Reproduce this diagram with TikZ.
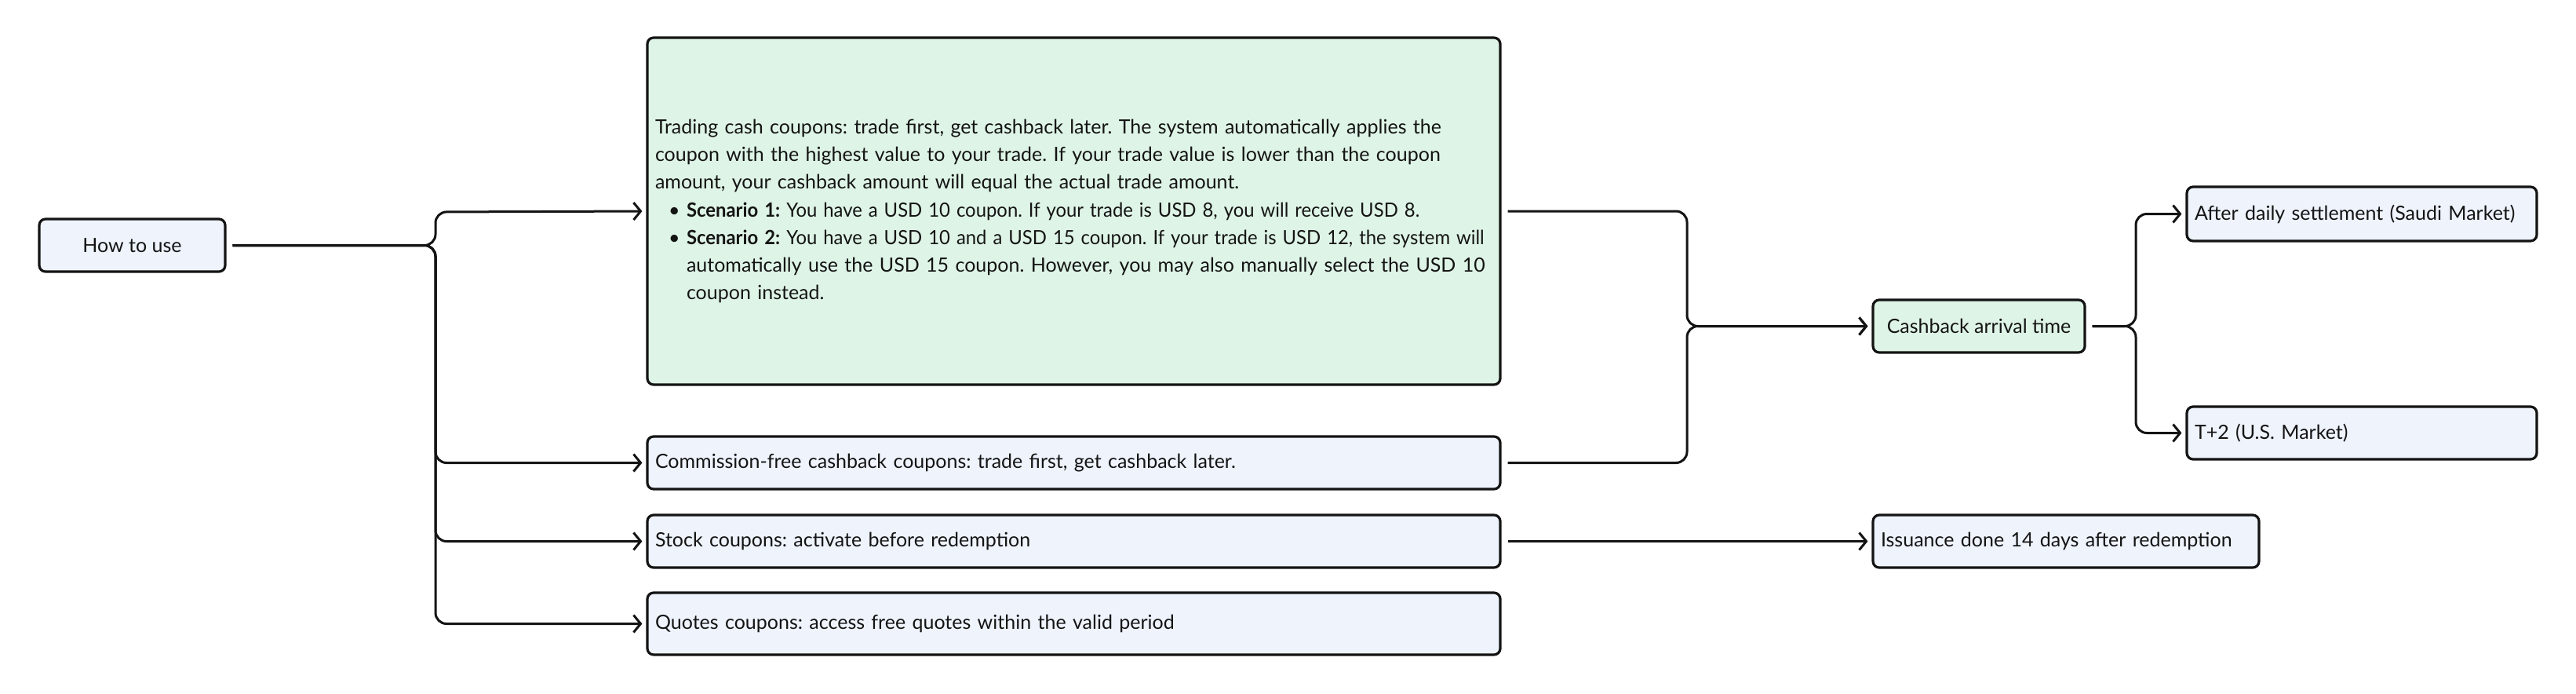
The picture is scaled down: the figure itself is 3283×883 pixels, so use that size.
\documentclass[tikz,border=0pt]{standalone}
\usepackage{graphicx}
\usepackage{fontspec}
\setmainfont{Lato}
\frenchspacing
\usetikzlibrary{arrows.meta}
\definecolor{bluefill}{RGB}{238,243,252}
\definecolor{greenfill}{RGB}{222,244,230}
\definecolor{ink}{RGB}{20,20,20}
\begin{document}
\begin{tikzpicture}[x=1pt,y=-1pt,
  box/.style={draw=ink, line width=3.2pt, rounded corners=8pt, fill=bluefill,
    font=\fontsize{25}{35.3}\selectfont, text=ink, inner sep=0pt, minimum height=67pt},
  lbox/.style={box, align=left, inner xsep=10pt},
  conn/.style={draw=ink, line width=3pt, rounded corners=14pt, shorten <=8pt, shorten >=5pt,
    -{Straight Barb[length=9pt,width=22pt,line width=3pt]}}
]
\useasboundingbox (0,0) rectangle (3283,883);
\node[box, minimum width=237pt] (how) at (168.5,312.5) {How to use};
\node[lbox, fill=greenfill, text width=1067pt, minimum height=442pt] (big) at (1368.5,269) {\mbox{Trading cash coupons: trade first, get cashback later. The system automatically applies the}\\
\mbox{coupon with the highest value to your trade. If your trade value is lower than the coupon}\\
\mbox{amount, your cashback amount will equal the actual trade amount.}\\
\mbox{\hspace*{17pt}\makebox[23pt][l]{\textbullet}\scalebox{0.955}[1]{\textbf{Scenario 1:} You have a USD 10 coupon. If your trade is USD 8, you will receive USD 8.}}\\
\mbox{\hspace*{17pt}\makebox[23pt][l]{\textbullet}\scalebox{0.955}[1]{\textbf{Scenario 2:} You have a USD 10 and a USD 15 coupon. If your trade is USD 12, the system will}}\\
\mbox{\hspace*{40pt}automatically use the USD 15 coupon. However, you may also manually select the USD 10}\\
\mbox{\hspace*{40pt}coupon instead.}};
\node[lbox, text width=1067pt] (comm) at (1368.5,589.5) {Commission-free cashback coupons: trade first, get cashback later.};
\node[lbox, text width=1067pt] (stock) at (1368.5,689.5) {Stock coupons: activate before redemption};
\node[lbox, text width=1067pt, minimum height=79pt] (quotes) at (1368.5,794.5) {Quotes coupons: access free quotes within the valid period};
\node[box, fill=greenfill, minimum width=270pt] (cash) at (2522,415.5) {Cashback arrival time};
\node[lbox, text width=426pt, minimum height=69pt] (saudi) at (3010,272.5) {After daily settlement (Saudi Market)};
\node[lbox, text width=426pt] (us) at (3010,551.5) {T+2 (U.S. Market)};
\node[lbox, text width=472pt] (iss) at (2633,689.5) {Issuance done 14 days after redemption};
% connectors from How to use
\draw[conn] (how.east) -- (555,312.5) -- (555,270) -- (big.west);
\draw[conn] (how.east) -- (555,312.5) -- (555,589.5) -- (comm.west);
\draw[conn] (how.east) -- (555,312.5) -- (555,689.5) -- (stock.west);
\draw[conn] (how.east) -- (555,312.5) -- (555,794.5) -- (quotes.west);
% to cashback
\draw[conn] (big.east) -- (2150,269) -- (2150,415.5) -- (cash.west);
\draw[conn] (comm.east) -- (2150,589.5) -- (2150,415.5) -- (cash.west);
% cashback children
\draw[conn] (cash.east) -- (2722,415.5) -- (2722,272.5) -- (saudi.west);
\draw[conn] (cash.east) -- (2722,415.5) -- (2722,551.5) -- (us.west);
% stock to issuance
\draw[conn] (stock.east) -- (iss.west);
\end{tikzpicture}
\end{document}
